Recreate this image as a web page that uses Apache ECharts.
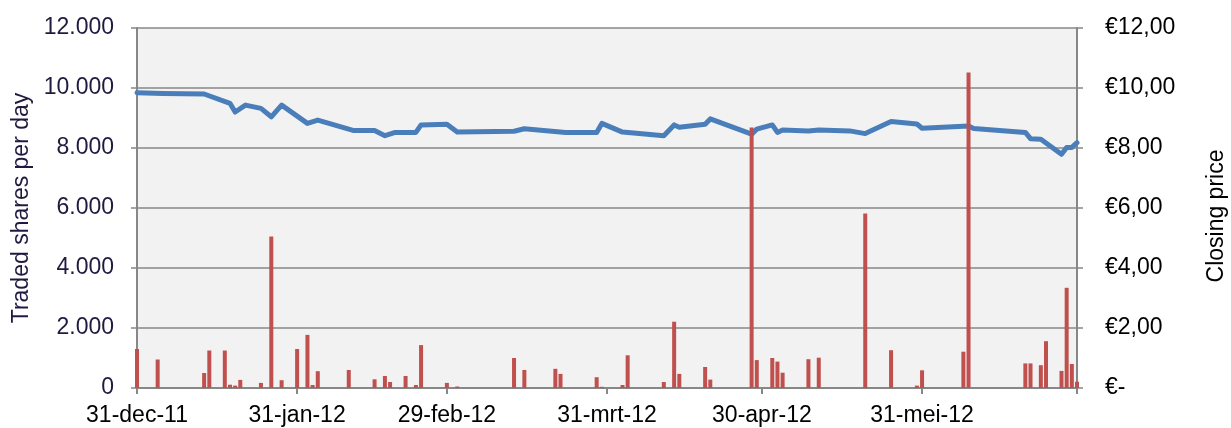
<!DOCTYPE html>
<html>
<head>
<meta charset="utf-8">
<script src="https://cdn.jsdelivr.net/npm/echarts@6/dist/echarts.min.js"></script>
<style>
  html, body { margin: 0; padding: 0; background: #ffffff; }
  #chart { width: 1231px; height: 428px; }
</style>
</head>
<body>
<div id="chart"></div>
<script>
// ---- Data ----
const barDates = [
  '2011-12-31','2012-01-04','2012-01-13','2012-01-14','2012-01-17','2012-01-18','2012-01-19','2012-01-20',
  '2012-01-24','2012-01-26','2012-01-28','2012-01-31','2012-02-02','2012-02-03','2012-02-04','2012-02-10',
  '2012-02-15','2012-02-17','2012-02-18','2012-02-21','2012-02-23','2012-02-24','2012-02-29','2012-03-02',
  '2012-03-13','2012-03-15','2012-03-21','2012-03-22','2012-03-29','2012-03-30','2012-04-03','2012-04-04',
  '2012-04-11','2012-04-13','2012-04-14','2012-04-19','2012-04-20','2012-04-28','2012-04-29','2012-05-02',
  '2012-05-03','2012-05-04','2012-05-09','2012-05-11','2012-05-20','2012-05-25','2012-05-30','2012-05-31',
  '2012-06-08','2012-06-09','2012-06-20','2012-06-21','2012-06-23','2012-06-24','2012-06-27','2012-06-28',
  '2012-06-29','2012-06-30'
];
const tradedShares = [
  1300, 950, 500, 1250, 1250, 110, 80, 270,
  170, 5050, 260, 1300, 1770, 100, 560, 600,
  290, 400, 200, 400, 100, 1430, 170, 50,
  1000, 600, 640, 470, 360, 40, 100, 1090,
  200, 2210, 470, 700, 280, 8680, 930, 1000,
  880, 510, 960, 1010, 5820, 1260, 80, 590,
  1210, 10520, 820, 820, 760, 1560, 570, 3340,
  800, 210
];
const priceDates = [
  '2011-12-31','2012-01-05','2012-01-13','2012-01-18','2012-01-19','2012-01-21','2012-01-24','2012-01-26',
  '2012-01-28','2012-02-02','2012-02-04','2012-02-11','2012-02-15','2012-02-17','2012-02-19','2012-02-23',
  '2012-02-24','2012-02-29','2012-03-02','2012-03-13','2012-03-15','2012-03-23','2012-03-29','2012-03-30',
  '2012-04-03','2012-04-11','2012-04-13','2012-04-14','2012-04-19','2012-04-20','2012-04-28','2012-04-29',
  '2012-05-02','2012-05-03','2012-05-04','2012-05-09','2012-05-11','2012-05-17','2012-05-20','2012-05-25',
  '2012-05-30','2012-05-31','2012-06-09','2012-06-10','2012-06-20','2012-06-21','2012-06-23','2012-06-27',
  '2012-06-28','2012-06-29','2012-06-30'
];
const closingPrices = [
  9.84, 9.82, 9.80, 9.49, 9.20, 9.43, 9.32, 9.04,
  9.43, 8.82, 8.93, 8.58, 8.58, 8.41, 8.52, 8.52,
  8.77, 8.79, 8.53, 8.56, 8.64, 8.52, 8.52, 8.82,
  8.53, 8.41, 8.77, 8.69, 8.79, 8.97, 8.46, 8.63,
  8.77, 8.52, 8.60, 8.57, 8.60, 8.57, 8.48, 8.88,
  8.80, 8.66, 8.73, 8.65, 8.52, 8.31, 8.29, 7.79,
  8.02, 8.02, 8.18
];
const tickDates = ['2011-12-31','2012-01-31','2012-02-29','2012-03-31','2012-04-30','2012-05-31','2012-06-30'];
const labelDates = ['2011-12-31','2012-01-31','2012-02-29','2012-03-31','2012-04-30','2012-05-31'];
const monthNames = ['jan','feb','mrt','apr','mei','jun','jul','aug','sep','okt','nov','dec'];
const axisMin = '2011-12-31';
const axisMax = '2012-06-30';

function toTime(s) {
  const p = s.split('-').map(Number);
  return new Date(p[0], p[1] - 1, p[2]).getTime();
}
function fmtDate(v) {
  const d = new Date(v);
  const dd = String(d.getDate()).padStart(2, '0');
  const yy = String(d.getFullYear() % 100).padStart(2, '0');
  return dd + '-' + monthNames[d.getMonth()] + '-' + yy;
}

const FONT = "'Liberation Sans', Arial, sans-serif";
const GRID_COLOR = '#878787';
const NAVY = '#1F1A3F';

const chart = echarts.init(document.getElementById('chart'), null, { renderer: 'canvas' });

chart.setOption({
  animation: false,
  backgroundColor: '#ffffff',
  textStyle: { fontFamily: FONT },
  grid: {
    left: 137, right: 154, top: 28, bottom: 40,
    show: true, backgroundColor: '#F2F2F2', borderWidth: 0
  },
  xAxis: {
    type: 'value',
    min: toTime(axisMin),
    max: toTime(axisMax),
    axisLine: { show: true, lineStyle: { color: GRID_COLOR, width: 2 } },
    axisTick: { show: true, length: 6, lineStyle: { color: GRID_COLOR, width: 2 },
      customValues: tickDates.map(toTime) },
    axisLabel: {
      customValues: labelDates.map(toTime),
      formatter: (v) => fmtDate(v),
      color: '#000', fontSize: 23, fontFamily: FONT, margin: 16
    },
    splitLine: { show: false }
  },
  yAxis: [
    {
      type: 'value', min: 0, max: 12000, interval: 2000, position: 'left',
      name: 'Traded shares per day', nameLocation: 'middle', nameRotate: 90, nameGap: 104,
      nameTextStyle: { color: NAVY, fontSize: 23, fontFamily: FONT },
      axisLine: { show: true, lineStyle: { color: GRID_COLOR, width: 2 } },
      axisTick: { show: true, length: 6, lineStyle: { color: GRID_COLOR, width: 1.5 } },
      axisLabel: {
        color: NAVY, fontSize: 23, fontFamily: FONT, margin: 23,
        formatter: (v) => v === 0 ? '0' : (v / 1000).toFixed(3)
      },
      splitLine: { show: true, lineStyle: { color: GRID_COLOR, width: 1.5 } }
    },
    {
      type: 'value', min: 0, max: 12, interval: 2, position: 'right',
      axisLine: { show: true, lineStyle: { color: GRID_COLOR, width: 2 } },
      axisTick: { show: true, length: 6, lineStyle: { color: GRID_COLOR, width: 1.5 } },
      axisLabel: {
        color: '#000', fontSize: 23, fontFamily: FONT, margin: 28,
        formatter: (v) => v === 0 ? '€-' : '€' + v.toFixed(2).replace('.', ',')
      },
      splitLine: { show: false }
    }
  ],
  graphic: [
    {
      type: 'text', x: 1217, y: 216, rotation: Math.PI / 2,
      style: { text: 'Closing price', fontSize: 23, fontFamily: FONT, fill: '#000',
        align: 'center', verticalAlign: 'middle' }
    }
  ],
  series: [
    {
      name: 'Closing price', type: 'line', yAxisIndex: 1, z: 2,
      data: priceDates.map((d, i) => [toTime(d), closingPrices[i]]),
      showSymbol: false, symbol: 'none',
      lineStyle: { color: '#4A7EBB', width: 5, join: 'round', cap: 'round' }
    },
    {
      name: 'Traded shares', type: 'bar', yAxisIndex: 0, z: 3,
      data: barDates.map((d, i) => [toTime(d), tradedShares[i]]),
      barWidth: 4,
      itemStyle: { color: '#C0504D' }
    }
  ]
});
</script>
</body>
</html>
